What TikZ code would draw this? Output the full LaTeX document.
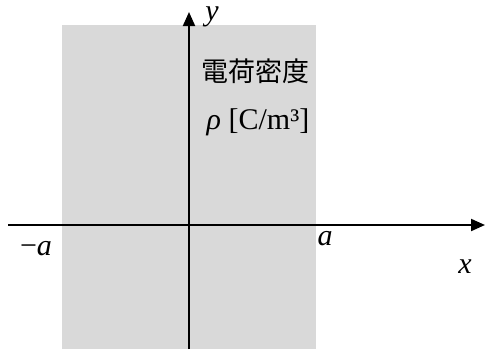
\documentclass[tikz,border=0pt]{standalone}
\usepackage{fontspec}
\setmainfont{Liberation Serif}
\newfontfamily\jpfont{Noto Sans CJK JP}
\usetikzlibrary{arrows.meta}

\begin{document}
\begin{tikzpicture}[
        x=1pt, y=-1pt,
        axis/.style={
            -{Triangle[length=14pt,width=12pt]},
            line width=2pt
        },
        lbl/.style={
            inner sep=0pt,
            anchor=base,
            font=\fontsize{30}{34}\selectfont
        }
    ]

    \useasboundingbox (0,0) rectangle (485,349);
    \fill[black!15] (62,25) rectangle (316,349);

    \coordinate (x_start) at (8,225);
    \coordinate (x_end)   at (485,225);
    \coordinate (y_start) at (189,349);
    \coordinate (y_end)   at (189,12);

    \draw[axis] (x_start) -- (x_end);
    \draw[axis] (y_start) -- (y_end);

    \node[lbl] (lab_y)    at (212,20)  {\textit{y}};
    \node[lbl] (lab_x)    at (465,273) {\textit{x}};
    \node[lbl] (lab_a)    at (325,245) {\textit{a}};
    \node[lbl] (lab_ma)   at (36,255)  {−\textit{a}};
    \node[lbl, font=\jpfont\fontsize{27}{32}\selectfont] (lab_name) at (255,81) {電荷密度};
    \node[lbl] (lab_rho)  at (258,129) {\textit{ρ} [C/m³]};

\end{tikzpicture}
\end{document}
